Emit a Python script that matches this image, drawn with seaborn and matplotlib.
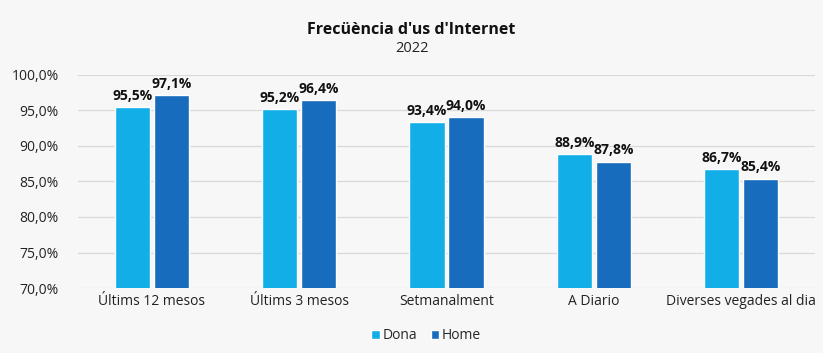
import matplotlib
matplotlib.use('Agg')
import matplotlib.pyplot as plt
import pandas as pd
import seaborn as sns

# Data
categories = ['Últims 12 mesos', 'Últims 3 mesos', 'Setmanalment', 'A Diario', 'Diverses vegades al dia']
dona = [95.5, 95.2, 93.4, 88.9, 86.7]
home = [97.1, 96.4, 94.0, 87.8, 85.4]

df = pd.DataFrame({
    'cat': categories * 2,
    'value': dona + home,
    'sexe': ['Dona'] * len(categories) + ['Home'] * len(categories),
})

sns.set_style('white')
plt.rcParams['font.family'] = ['Open Sans', 'DejaVu Sans']

bg = '#f7f7f7'
fig = plt.figure(figsize=(8.23, 3.53), dpi=100, facecolor=bg)
ax = fig.add_axes([0.095, 0.184, 0.895, 0.604])
ax.set_facecolor(bg)

palette = {'Dona': '#12aee8', 'Home': '#176cbd'}
sns.barplot(data=df, x='cat', y='value', hue='sexe', palette=palette,
            width=0.53, gap=0.09, ax=ax, saturation=1, legend=True)

ax.set_ylim(70, 100)
ax.set_yticks(range(70, 101, 5))
ax.set_yticklabels([f'{v:.1f}%'.replace('.', ',') for v in range(70, 101, 5)],
                   fontsize=10, color='#222222')
ax.tick_params(axis='x', labelsize=10, colors='#222222', length=0, pad=4)
ax.tick_params(axis='y', length=0, pad=14)
ax.grid(axis='y', color='#d9d9d9', linewidth=0.9)
ax.set_axisbelow(True)
for s in ax.spines.values():
    s.set_visible(False)
ax.set_xlabel('')
ax.set_ylabel('')

for cont in ax.containers:
    labels = [f'{v:.1f}%'.replace('.', ',') for v in cont.datavalues]
    ax.bar_label(cont, labels=labels, padding=3, fontsize=10, fontweight='bold', color='#111111')

fig.text(0.5, 0.915, "Frecüència d'us d'Internet", ha='center', va='center', fontsize=11.5,
         fontweight='bold', color='#111111')
fig.text(0.5, 0.864, '2022', ha='center', va='center', fontsize=10.5, color='#222222')

leg = ax.legend(loc='upper center', bbox_to_anchor=(0.5 - 0.095 / 2 + 0.02, -0.13), ncol=2, frameon=False,
                fontsize=10, handlelength=0.6, handleheight=0.6, handletextpad=0.2, columnspacing=1.0)

fig.savefig('out.png', dpi=100, facecolor=bg)
